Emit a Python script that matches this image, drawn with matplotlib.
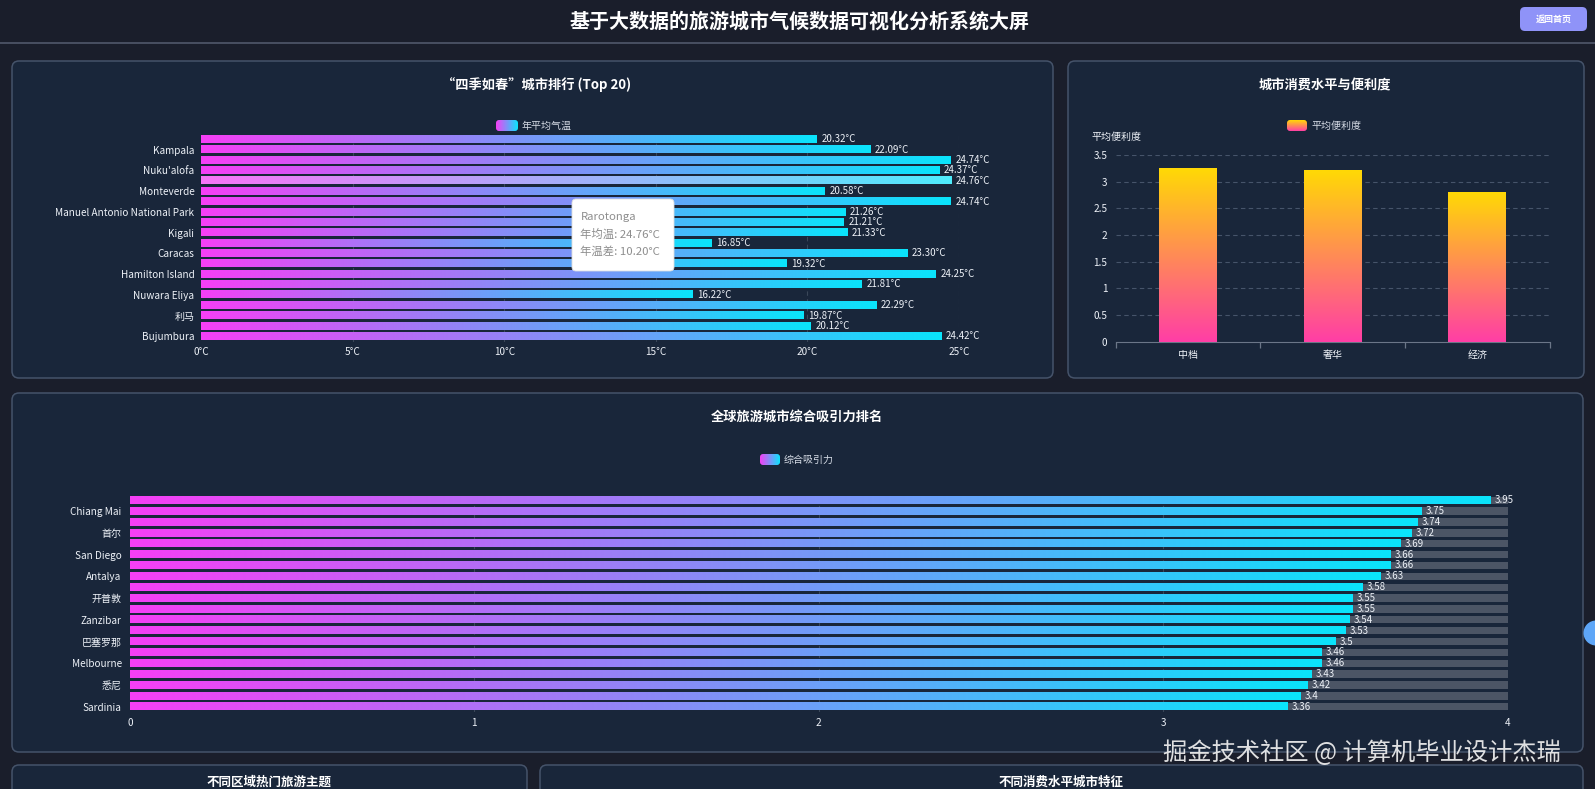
import numpy as np
import matplotlib
matplotlib.use("Agg")
import matplotlib.pyplot as plt
from matplotlib.patches import FancyBboxPatch, Circle
from matplotlib.colors import to_rgb

plt.rcParams['font.family'] = ['Noto Sans CJK SC', 'DejaVu Sans']

W, H = 1595, 789

# --- data ---------------------------------------------------------------
# "四季如春" ranking, listed top to bottom ("" = label hidden by the axis)
spring_cities = ["", "Kampala", "", "Nuku'alofa", "Rarotonga", "Monteverde", "",
                 "Manuel Antonio National Park", "", "Kigali", "", "Caracas", "",
                 "Hamilton Island", "", "Nuwara Eliya", "", "利马", "", "Bujumbura"]
spring_temps = [20.32, 22.09, 24.74, 24.37, 24.76, 20.58, 24.74, 21.26, 21.21, 21.33,
                16.85, 23.30, 19.32, 24.25, 21.81, 16.22, 22.29, 19.87, 20.12, 24.42]
spring_ticks = [0, 5, 10, 15, 20, 25]
hover_city = "Rarotonga"
hover_range = 10.20

# consumption level vs convenience
levels = ["中档", "奢华", "经济"]
convenience = [3.26, 3.21, 2.80]
conv_ticks = [0, 0.5, 1, 1.5, 2, 2.5, 3, 3.5]

# overall attraction, top to bottom
attract_cities = ["", "Chiang Mai", "", "首尔", "", "San Diego", "", "Antalya", "",
                  "开普敦", "", "Zanzibar", "", "巴塞罗那", "", "Melbourne", "", "悉尼",
                  "", "Sardinia"]
attract_scores = [3.95, 3.75, 3.74, 3.72, 3.69, 3.66, 3.66, 3.63, 3.58, 3.55,
                  3.55, 3.54, 3.53, 3.5, 3.46, 3.46, 3.43, 3.42, 3.4, 3.36]
attract_ticks = [0, 1, 2, 3, 4]

# --- colours --------------------------------------------------------------
PAGE = "#1a1e2b"
PANEL = "#19263a"
BORDER = "#45536a"
GRID = "#3a4759"
TXT = "#eef2f8"
MAGENTA, CYAN = "#f63ff5", "#0ae4fc"
YELLOW, PINK = "#ffd905", "#ff3ea6"

fig = plt.figure(figsize=(W / 100, H / 100), dpi=100, facecolor=PAGE)


def full_axes():
    a = fig.add_axes([0, 0, 1, 1])
    a.set_xlim(0, W)
    a.set_ylim(H, 0)
    a.axis("off")
    a.set_facecolor("none")
    return a


bg = full_axes()


def px_axes(x0, y0, x1, y1):
    ax = fig.add_axes([x0 / W, 1 - y1 / H, (x1 - x0) / W, (y1 - y0) / H])
    ax.set_facecolor("none")
    for s in ax.spines.values():
        s.set_visible(False)
    return ax


def panel(x0, y0, x1, y1):
    bg.add_patch(FancyBboxPatch((x0, y0), x1 - x0, y1 - y0,
                                boxstyle="round,pad=0,rounding_size=7",
                                fc=PANEL, ec=BORDER, lw=1.1))


def ramp(c0, c1, n=256):
    t = np.linspace(0, 1, n)[:, None]
    return (1 - t) * np.array(to_rgb(c0)) + t * np.array(to_rgb(c1))


def fill_gradient(ax, patch, c0, c1, vertical=False, lighten=0.0):
    cols = ramp(c0, c1)
    cols = cols + (1 - cols) * lighten
    img = cols[:, None, :] if vertical else cols[None, :, :]
    x, y = patch.get_x(), patch.get_y()
    w, h = patch.get_width(), patch.get_height()
    ax.imshow(img, extent=(x, x + w, y, y + h), aspect="auto",
              interpolation="bilinear", zorder=3)


def legend_swatch(x0, y0, x1, y1, c0, c1, vertical=False):
    cols = ramp(c0, c1)
    img = cols[:, None, :] if vertical else cols[None, :, :]
    box = FancyBboxPatch((x0, y0), x1 - x0, y1 - y0,
                         boxstyle="round,pad=0,rounding_size=3", fc="none", ec="none")
    bg.add_patch(box)
    im = bg.imshow(img, extent=(x0, x1, y1, y0), aspect="auto", zorder=5)
    im.set_clip_path(box)


# --- header -------------------------------------------------------------
bg.text(800, 21, "基于大数据的旅游城市气候数据可视化分析系统大屏", color="white",
        fontsize=14.4, fontweight="bold", ha="center", va="center")
bg.plot([0, W], [43, 43], color="#4c5466", lw=1.3)
bg.add_patch(FancyBboxPatch((1520, 7), 67, 24, boxstyle="round,pad=0,rounding_size=5",
                            fc="#8f93f8", ec="none"))
bg.text(1553.5, 19, "返回首页", color="white", fontsize=6.5, fontweight="bold",
        ha="center", va="center")

# --- panels -------------------------------------------------------------
panel(12, 61, 1053, 378)
panel(1068, 61, 1584, 378)
panel(12, 393, 1583, 752)
panel(12, 765, 527, 800)
panel(540, 765, 1583, 800)

# ===== chart 1: spring-like cities =====================================
bg.text(537, 85, "“四季如春”城市排行 (Top 20)", color="white", fontsize=9.5,
        fontweight="bold", ha="center", va="center")
legend_swatch(496, 120, 518, 131, MAGENTA, CYAN)
bg.text(522, 125.5, "年平均气温", color="#d5dbe5", fontsize=7.2, ha="left", va="center")

ax1 = px_axes(201.4, 134.1, 959, 341.5)
pos1 = np.arange(len(spring_temps))
bars1 = ax1.barh(pos1, spring_temps, height=0.7, color="none", zorder=3)
for city, v, p in zip(spring_cities, spring_temps, bars1):
    fill_gradient(ax1, p, MAGENTA, CYAN, lighten=0.28 if city == hover_city else 0.0)
    ax1.annotate(f"{v:.2f}°C", (v, p.get_y() + p.get_height() / 2), xytext=(3, 0),
                 textcoords="offset points", color=TXT, fontsize=7, va="center", ha="left")
ax1.set_xlim(0, 25)
ax1.set_ylim(len(spring_temps) - 0.5, -0.5)
ax1.set_xticks(spring_ticks)
ax1.set_xticklabels([f"{t}°C" for t in spring_ticks])
ax1.set_yticks(pos1[1::2])
ax1.set_yticklabels(spring_cities[1::2])
ax1.tick_params(length=0, colors=TXT, labelsize=7.2, pad=5)
ax1.tick_params(axis="x", pad=4)
for t in spring_ticks[1:]:
    ax1.axvline(t, color=GRID, lw=0.8, ls=(0, (4, 3)), zorder=1)

# ===== chart 2: consumption level vs convenience ======================
bg.text(1325, 85, "城市消费水平与便利度", color="white", fontsize=9.5,
        fontweight="bold", ha="center", va="center")
legend_swatch(1287, 120, 1307, 131, YELLOW, PINK, vertical=True)
bg.text(1312, 125.5, "平均便利度", color="#d5dbe5", fontsize=7.2, ha="left", va="center")
bg.text(1116, 136.5, "平均便利度", color=TXT, fontsize=7.2, ha="center", va="center")

ax2 = px_axes(1115.6, 155, 1549.8, 341.7)
pos2 = np.arange(len(levels))
bars2 = ax2.bar(pos2, convenience, width=0.4, color="none", zorder=3)
for p in bars2:
    fill_gradient(ax2, p, YELLOW, PINK, vertical=True)
ax2.set_xlim(-0.5, len(levels) - 0.5)
ax2.set_ylim(0, 3.5)
ax2.set_yticks(conv_ticks)
ax2.set_yticklabels([f"{t:g}" for t in conv_ticks])
ax2.set_xticks(pos2)
ax2.set_xticklabels(levels)
ax2.tick_params(axis="y", length=0, colors=TXT, labelsize=7.2, pad=6)
ax2.tick_params(axis="x", length=0, colors=TXT, labelsize=7.2, pad=6)
ax2.set_xticks(np.arange(-0.5, len(levels)), minor=True)
ax2.tick_params(axis="x", which="minor", length=4, color="#6b7688", width=0.9)
ax2.spines["bottom"].set_visible(True)
ax2.spines["bottom"].set_color("#6b7688")
for t in conv_ticks[1:]:
    ax2.axhline(t, color="#46546a", lw=0.8, ls=(0, (4, 3)), zorder=1)

# ===== chart 3: overall attraction ranking ============================
bg.text(797, 417, "全球旅游城市综合吸引力排名", color="white", fontsize=9.5,
        fontweight="bold", ha="center", va="center")
legend_swatch(760, 454, 780, 465, MAGENTA, CYAN)
bg.text(784, 459.5, "综合吸引力", color="#d5dbe5", fontsize=7.2, ha="left", va="center")

ax3 = px_axes(130, 494.9, 1507.5, 712.1)
pos3 = np.arange(len(attract_scores))
ax3.barh(pos3, [attract_ticks[-1]] * len(pos3), height=0.68, color="#4c5565", zorder=2)
bars3 = ax3.barh(pos3, attract_scores, height=0.68, color="none", zorder=3)
for v, p in zip(attract_scores, bars3):
    fill_gradient(ax3, p, MAGENTA, CYAN)
    ax3.annotate(f"{v:g}", (v, p.get_y() + p.get_height() / 2), xytext=(3, 0),
                 textcoords="offset points", color=TXT, fontsize=7, va="center",
                 ha="left", zorder=6)
ax3.set_xlim(0, attract_ticks[-1])
ax3.set_ylim(len(attract_scores) - 0.5, -0.5)
ax3.set_xticks(attract_ticks)
ax3.set_yticks(pos3[1::2])
ax3.set_yticklabels(attract_cities[1::2])
ax3.tick_params(length=0, colors=TXT, labelsize=7.2, pad=6)
ax3.tick_params(axis="x", pad=4)
for t in attract_ticks[1:-1]:
    ax3.axvline(t, color=GRID, lw=0.8, ls=(0, (4, 3)), zorder=1)

# ===== partially visible panels below =================================
bg.text(269, 776, "不同区域热门旅游主题", color="white", fontsize=9,
        fontweight="bold", ha="center", va="top")
bg.text(1061, 776, "不同消费水平城市特征", color="white", fontsize=9,
        fontweight="bold", ha="center", va="top")

# ===== overlay: tooltip, side handle, watermark ========================
top = full_axes()
hi = spring_cities.index(hover_city)
top.add_patch(FancyBboxPatch((572, 199), 102, 72, boxstyle="round,pad=0,rounding_size=4",
                             fc="white", ec="#dddddd", lw=0.6))
tip = [hover_city, f"年均温: {spring_temps[hi]:.2f}°C", f"年温差: {hover_range:.2f}°C"]
for i, line in enumerate(tip):
    top.text(580.5, 217.3 + i * 17.2, line, color="#8e8e8e", fontsize=8.2,
             ha="left", va="center")
top.add_patch(Circle((1596, 633), 12.5, fc="#5ea6f7", ec="none"))
top.text(1163, 753, "掘金技术社区 @ 计算机毕业设计杰瑞", color="#f0f0f0", alpha=0.92,
         fontsize=17.5, ha="left", va="center")

fig.savefig("out.png", dpi=100, facecolor=PAGE)
